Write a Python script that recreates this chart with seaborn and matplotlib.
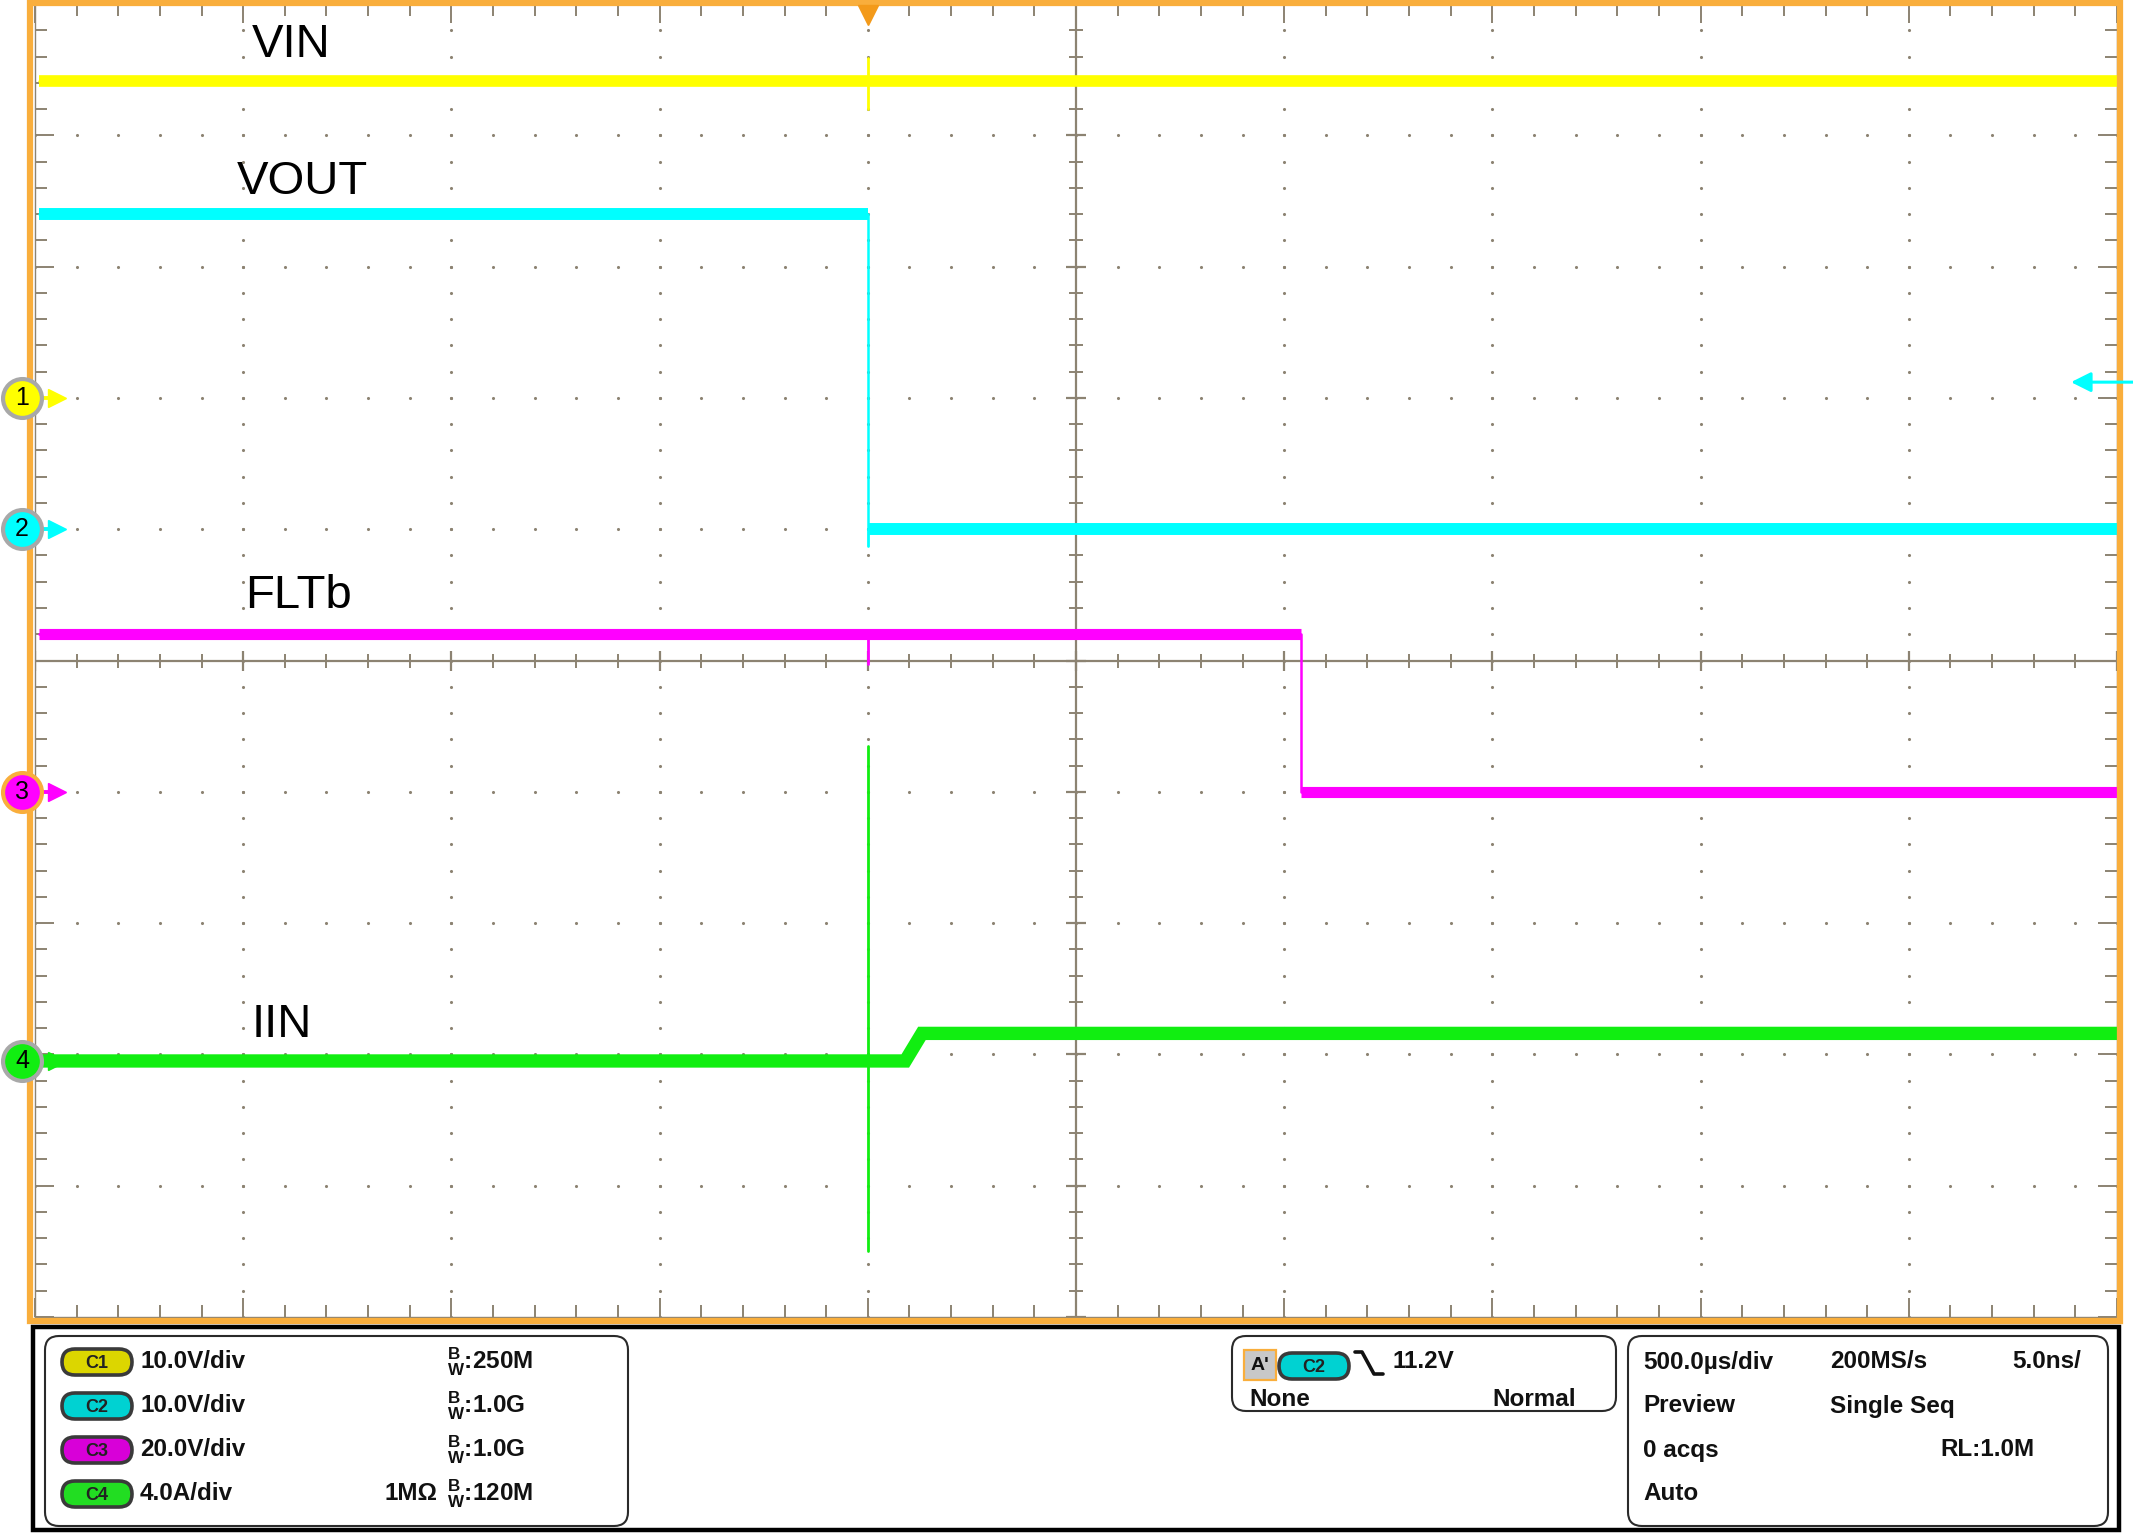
import numpy as np
import matplotlib
matplotlib.use("Agg")
import matplotlib.pyplot as plt
import matplotlib.transforms as mtransforms
from matplotlib.patches import Rectangle, FancyBboxPatch
from matplotlib.ticker import MultipleLocator
import seaborn as sns

# scope settings
time_per_div = 500.0      # us/div
trigger_div = -1.0        # trigger position, divisions from screen centre
trigger_level = 11.2      # V on C2

ch_names = ["VIN", "VOUT", "FLTb", "IIN"]
ch_colors = ["#FFFF00", "#00FFFF", "#FF00FF", "#11EE11"]
ch_scale = [10.0, 10.0, 20.0, 4.0]      # V/div, A/div
ch_offset = [2.0, 1.0, -1.0, -3.05]     # ground marker (div)
ch_scale_text = ["10.0V/div", "10.0V/div", "20.0V/div", "4.0A/div"]
ch_bw_text = ["250M", "1.0G", "1.0G", "120M"]

# captured traces (time in us from trigger, value in V / A)
vin_t = [-1990, 3000]
vin_v = [24.1, 24.1]
vout_t = [-1990, 0, 0, 3000]
vout_v = [24.0, 24.0, 0.0, 0.0]
fltb_t = [-1990, 1040, 1040, 3000]
fltb_v = [24.0, 24.0, 0.0, 0.0]
iin_t = [-2000, 90, 130, 3000]
iin_v = [0.0, 0.0, 0.84, 0.84]

# switching glitches at the trigger instant
glitch_t = [0, 0]
vin_glitch = [22.0, 25.9]
vout_glitch = [-1.3, 0.0]
fltb_glitch = [19.4, 24.0]
iin_glitch = [-5.8, 9.6]

# label positions (div)
label_x = [-3.96, -4.03, -3.99, -3.96]
label_y = [4.60, 3.556, 0.40, -2.87]

W, H = 2133, 1533
GRID = "#8C8372"
ORANGE = "#F9AE3C"
TXT = "#111111"

sns.set_style("white")
plt.rcParams["font.family"] = ["Liberation Sans", "DejaVu Sans"]
plt.rcParams["mathtext.fontset"] = "custom"
plt.rcParams["mathtext.bf"] = "Liberation Sans:bold"
plt.rcParams["mathtext.rm"] = "Liberation Sans"

fig = plt.figure(figsize=(W / 100, H / 100), dpi=100, facecolor="white")
ax = fig.add_axes([35 / W, (H - 1317) / H, 2082 / W, 1313 / H], zorder=1)
ax.set_xlim(-5, 5)
ax.set_ylim(-5, 5)
ax.set_facecolor("white")

# graticule: border ticks
ax.xaxis.set_major_locator(MultipleLocator(1))
ax.yaxis.set_major_locator(MultipleLocator(1))
ax.xaxis.set_minor_locator(MultipleLocator(0.2))
ax.yaxis.set_minor_locator(MultipleLocator(0.2))
ax.tick_params(which="both", direction="in", top=True, right=True, bottom=True, left=True,
               labelbottom=False, labelleft=False, color=GRID, width=1.4)
ax.tick_params(which="major", length=14)
ax.tick_params(which="minor", length=8.5)
for s in ax.spines.values():
    s.set_color(GRID)
    s.set_linewidth(1.0)

# dotted major grid lines
fine = np.round(np.arange(-5, 5.001, 0.2), 3)
major = [m for m in range(-4, 5) if m != 0]
dx = np.concatenate([np.full(fine.size, m) for m in major] + [fine for m in major])
dy = np.concatenate([fine for m in major] + [np.full(fine.size, m) for m in major])
ax.scatter(dx, dy, s=5, color=GRID, linewidths=0, zorder=1)

# centre cross with ticks
ax.axhline(0, color=GRID, lw=1.6, zorder=1)
ax.axvline(0, color=GRID, lw=1.6, zorder=1)
is_major = np.isclose(fine, np.round(fine))
ax.plot(np.zeros(fine.size)[~is_major], fine[~is_major], ls="none", marker="_", ms=10, mew=1.4, color=GRID, zorder=1)
ax.plot(np.zeros(fine.size)[is_major], fine[is_major], ls="none", marker="_", ms=15, mew=1.6, color=GRID, zorder=1)
ax.plot(fine[~is_major], np.zeros(fine.size)[~is_major], ls="none", marker="|", ms=10, mew=1.4, color=GRID, zorder=1)
ax.plot(fine[is_major], np.zeros(fine.size)[is_major], ls="none", marker="|", ms=15, mew=1.6, color=GRID, zorder=1)


def to_div(t, v, ch):
    x = trigger_div + np.asarray(t, float) / time_per_div
    y = ch_offset[ch] + np.asarray(v, float) / ch_scale[ch]
    return x, y


traces = [(vin_t, vin_v, vin_glitch), (vout_t, vout_v, vout_glitch),
          (fltb_t, fltb_v, fltb_glitch), (iin_t, iin_v, iin_glitch)]
band_lw = [8.4, 8.6, 8.0, 9.6]

for ch, (t, v, g) in enumerate(traces):
    col = ch_colors[ch]
    x, y = to_div(t, v, ch)
    # whole record, thin (keeps the fast edges thin)
    sns.lineplot(x=x, y=y, sort=False, estimator=None, color=col, lw=1.8, ax=ax, zorder=3)
    # noise band on the flat / ramping parts
    start = 0
    for i in range(1, len(x) + 1):
        if i == len(x) or x[i] <= x[i - 1]:
            if i - start > 1:
                sns.lineplot(x=x[start:i], y=y[start:i], sort=False, estimator=None,
                             color=col, lw=band_lw[ch], ax=ax, zorder=3,
                             solid_capstyle="butt", solid_joinstyle="miter")
            start = i
    gx, gy = to_div(glitch_t, g, ch)
    sns.lineplot(x=gx, y=gy, sort=False, estimator=None, color=col, lw=2.0, ax=ax, zorder=3)

for name, lx, ly in zip(ch_names, label_x, label_y):
    ax.text(lx, ly, name, fontsize=34, color="black", ha="left", va="baseline", zorder=5)

# ---------- overlay in pixel units ----------
ov = fig.add_axes([0, 0, 1, 1], zorder=2)
ov.set_xlim(0, W)
ov.set_ylim(H, 0)
ov.axis("off")
ov.patch.set_alpha(0)

ov.add_patch(Rectangle((29.5, 2.5), 2090, 1318, fill=False, ec=ORANGE, lw=4.5))

px_ydiv = mtransforms.blended_transform_factory(ov.transData, ax.transData)
xdiv_py = mtransforms.blended_transform_factory(ax.transData, ov.transData)

# channel ground markers
mk_edges = ["#A8A8A8", "#A8A8A8", ORANGE, "#A8A8A8"]
for ch in range(4):
    off = ch_offset[ch]
    ov.plot([40, 54], [off, off], color=ch_colors[ch], lw=2.8, transform=px_ydiv, zorder=4)
    ov.plot([57], [off], marker=">", ms=13, color=ch_colors[ch], mec=ch_colors[ch], transform=px_ydiv, zorder=4)
    ov.plot([22], [off], marker="o", ms=28, mfc=ch_colors[ch], mec=mk_edges[ch], mew=3,
            transform=px_ydiv, zorder=5)
    ov.text(22, off, str(ch + 1), fontsize=18, ha="center", va="center", color="black",
            transform=px_ydiv, zorder=6)

# trigger position & level markers
ov.plot([trigger_div], [15], marker="v", ms=15, color="#F39A1A", mec="#F39A1A", transform=xdiv_py, zorder=5)
trig_y = ch_offset[1] + trigger_level / ch_scale[1]
ov.annotate("", xy=(2071, trig_y), xytext=(2133, trig_y), xycoords=px_ydiv, textcoords=px_ydiv,
            arrowprops=dict(arrowstyle="-|>", color="#00FFFF", lw=2.2, mutation_scale=30, shrinkA=0, shrinkB=0))

# ---------- status panel ----------
ov.add_patch(Rectangle((33, 1327), 2086, 203, fill=False, ec="black", lw=3.2))
for (bx, by, bw, bh) in [(45, 1336, 583, 190), (1232, 1336, 384, 75), (1628, 1336, 480, 190)]:
    ov.add_patch(FancyBboxPatch((bx, by), bw, bh, boxstyle="round,pad=0,rounding_size=14",
                                fill=False, ec="#2a2a2a", lw=1.5))

pill_fill = ["#DCD600", "#00D2D2", "#D800D8", "#22DD22"]
rows = [1362, 1406, 1450, 1494]


def pill(cx, cy, label, fc):
    ov.add_patch(FancyBboxPatch((cx - 35, cy - 13), 70, 26, boxstyle="round,pad=0,rounding_size=13",
                                fc=fc, ec="#3a3a3a", lw=2.6))
    ov.text(cx, cy + 1, label, fontsize=13, fontweight="bold", ha="center", va="center", color="#222222")


tk = dict(fontsize=17.5, fontweight="bold", color=TXT, va="center")
for ch in range(4):
    y = rows[ch]
    pill(97, y, "C%d" % (ch + 1), pill_fill[ch])
    ov.text(140, y, ch_scale_text[ch], ha="left", **tk)
    ov.text(447, y, r"$^{\mathbf{B}}_{\mathbf{W}}$:" + ch_bw_text[ch], ha="left", **tk)
ov.text(437, rows[3], "1M\u03a9", ha="right", **tk)

# trigger box
ov.add_patch(Rectangle((1244, 1350), 32, 30, fc="#C8C8C8", ec=ORANGE, lw=1.6))
ov.text(1260, 1366, "A'", ha="center", fontsize=14, fontweight="bold", color=TXT, va="center")
pill(1314, 1366, "C2", "#00D2D2")
ov.plot([1355, 1362, 1374, 1383], [1352, 1352, 1374, 1374], color=TXT, lw=2.6, solid_joinstyle="round")
ov.text(1392, 1362, "%.1fV" % trigger_level, ha="left", **tk)
ov.text(1249, 1399, "None", ha="left", **tk)
ov.text(1576, 1399, "Normal", ha="right", **tk)

# timebase box
ov.text(1643, rows[0], "500.0\u00b5s/div", ha="left", **tk)
ov.text(1830, rows[0], "200MS/s", ha="left", **tk)
ov.text(2081, rows[0], "5.0ns/", ha="right", **tk)
ov.text(1643, rows[1], "Preview", ha="left", **tk)
ov.text(1830, rows[1], "Single Seq", ha="left", **tk)
ov.text(1643, rows[2], "0 acqs", ha="left", **tk)
ov.text(2034, rows[2], "RL:1.0M", ha="right", **tk)
ov.text(1643, rows[3], "Auto", ha="left", **tk)

fig.savefig("out.png", dpi=100, facecolor="white")
